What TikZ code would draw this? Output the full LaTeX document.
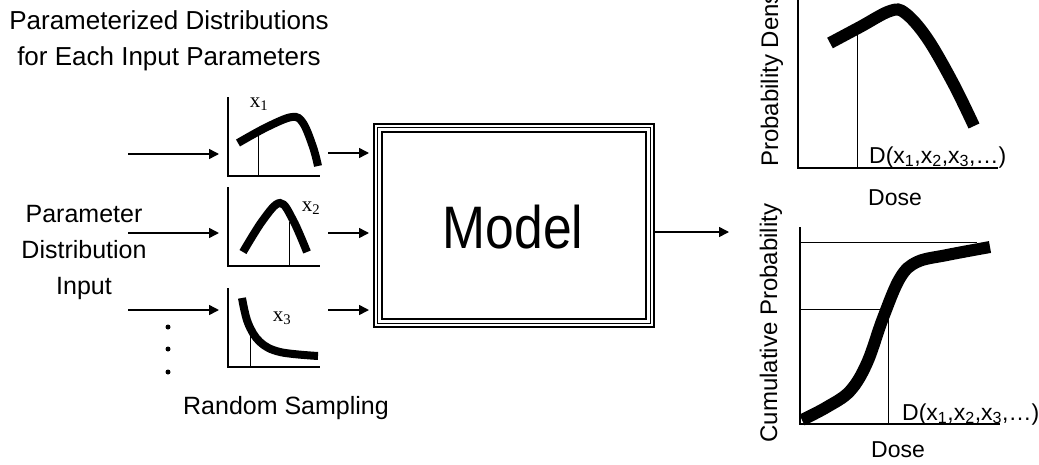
\documentclass[tikz,border=0pt]{standalone}
\usepackage{fontspec}
\setmainfont{Liberation Sans}
\newfontfamily\serifx{Liberation Serif}
\usetikzlibrary{arrows.meta}
\begin{document}
\begin{tikzpicture}[x=1pt,y=-1pt,
  lbl/.style={font=\fontsize{24}{28}\selectfont, inner sep=0pt, align=center},
  biglbl/.style={font=\fontsize{26}{36}\selectfont, inner sep=0pt, align=center},
  dlbl/.style={font=\fontsize{23}{26}\selectfont, inner sep=0pt},
  xlbl/.style={font=\serifx\fontsize{21}{22}\selectfont, inner sep=0pt},
  arr/.style={line width=1.5pt, -{Triangle[length=10pt,width=10pt]}},
  axis/.style={line width=1.5pt},
  mark line/.style={line width=1pt},
  small curve/.style={line width=8pt},
  big curve/.style={line width=12pt}]
\useasboundingbox (0,0) rectangle (1039,464);

% top-left titles
\node[biglbl] (title) at (169,41) {Parameterized Distributions\\for Each Input Parameters};
\node[biglbl, font=\fontsize{25}{36}\selectfont] (pdi) at (84,252) {Parameter\\Distribution\\Input};
\node[biglbl, font=\fontsize{25}{30}\selectfont] (rs) at (286,408) {Random Sampling};

% input coordinates
\coordinate (in1) at (128,154);
\coordinate (in2) at (128,233);
\coordinate (in3) at (128,310);
\coordinate (p1w) at (219,154);
\coordinate (p2w) at (219,233);
\coordinate (p3w) at (219,310);
\coordinate (p1e) at (328,153);
\coordinate (p2e) at (328,233);
\coordinate (p3e) at (328,310);

\draw[arr] (in1) -- (p1w);
\draw[arr] (in2) -- (p2w);
\draw[arr] (in3) -- (p3w);

% dots
\fill (168,327) circle (2.5);
\fill (168,349) circle (2.5);
\fill (168,372) circle (2.5);

% plot 1
\draw[axis] (228,97) -- (228,176) -- (320,176);
\draw[mark line] (258,176) -- (258,135);
\draw[small curve] plot[smooth, tension=0.6] coordinates {(238,143) (267,127) (292,117) (303,123) (313,147) (318,166)};
\node[xlbl] (x1) at (259,104) {x\textsubscript{1}};

% plot 2
\draw[axis] (228,187) -- (228,266) -- (320,266);
\draw[mark line] (289,266) -- (289,222);
\draw[small curve] plot[smooth, tension=0.6] coordinates {(243,252) (263,220) (280,203) (293,220) (307,252)};
\node[xlbl] (x2) at (311,208) {x\textsubscript{2}};

% plot 3
\draw[axis] (228,288) -- (228,367) -- (320,367);
\draw[mark line] (250,367) -- (250,334);
\draw[small curve] plot[smooth, tension=0.6] coordinates {(242,298) (248,323) (260,342) (280,352) (318,356)};
\node[xlbl] (x3) at (282,318) {x\textsubscript{3}};

% model box
\node[draw, line width=2pt, minimum width=280pt, minimum height=203pt, inner sep=0pt] (model) at (514,225.5) {};
\draw[line width=1.2pt] ([shift={(4.5,4.5)}]model.north west) rectangle ([shift={(-4.5,-4.5)}]model.south east);
\draw[line width=1.5pt] ([shift={(9,9)}]model.north west) rectangle ([shift={(-9,-9)}]model.south east);
\node[inner sep=0pt, font=\fontsize{60}{60}\selectfont, xscale=0.86] (mtext) at (513,227) {Model};

\draw[arr] (p1e) -- (369,153);
\draw[arr] (p2e) -- (369,233);
\draw[arr] (p3e) -- (369,310);
\coordinate (out) at (729,232);
\draw[arr] (model.east |- out) -- (out);

% top right plot
\draw[axis] (798,0) -- (798,168) -- (998,168);
\draw[mark line] (857,168) -- (857,32);
\draw[big curve] plot[smooth, tension=0.6] coordinates {(830,43) (860,27) (890,11) (905,13) (927,38) (953,83) (974,126)};
\node[dlbl, anchor=base west] (d1) at (869,163) {D(x\textsubscript{1},x\textsubscript{2},x\textsubscript{3},\dots)};
\node[dlbl, anchor=base] (dose1) at (895,205) {Dose};
\node[lbl, rotate=90, anchor=west] (pd) at (772,167) {Probability Dens};

% bottom right plot
\draw[axis] (800,227) -- (800,424) -- (1000,424);
\draw[mark line] (800,242) -- (977,242);
\draw[mark line] (800,309) -- (888,309) -- (888,424);
\draw[big curve] plot[smooth, tension=0.6] coordinates {(802,420) (827,407) (850,391) (867,363) (883,318) (900,278) (917,262) (947,255) (990,247)};
\node[dlbl, anchor=base west] (d2) at (902,420) {D(x\textsubscript{1},x\textsubscript{2},x\textsubscript{3},\dots)};
\node[dlbl, anchor=base] (dose2) at (898,457) {Dose};
\node[lbl, rotate=90] (cp) at (771,323) {Cumulative Probability};
\end{tikzpicture}
\end{document}
